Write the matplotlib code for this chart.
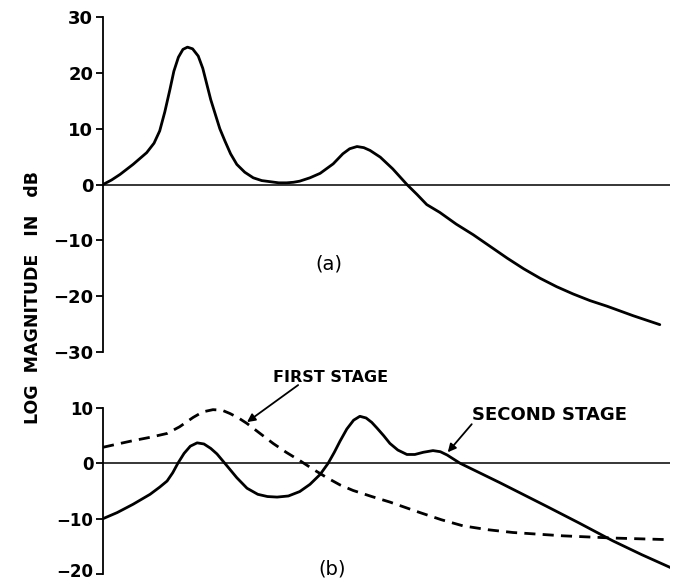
import matplotlib
matplotlib.use("Agg")
import matplotlib.pyplot as plt
from matplotlib.transforms import ScaledTranslation

# ---- data (frequency in arbitrary units 0..100, magnitude in dB) ----
a_x = [0, 1.5, 3.0, 5.3, 7.7, 9.0, 10.0, 10.9, 11.8, 12.5, 13.3, 14.1, 14.9, 15.8,
       16.8, 17.6, 18.3, 19.0, 19.8, 20.6, 21.5, 22.5, 23.6, 25.0, 26.5, 28.0, 29.5,
       31.0, 32.4, 33.6, 34.7, 36.5, 38.3, 40.6, 42.3, 43.5, 44.8, 46.0, 47.1, 48.9,
       51.1, 53.6, 55.4, 57.1, 59.4, 62.3, 65.3, 68.3, 71.3, 74.2, 77.1, 80.0, 82.9,
       85.9, 88.9, 93.5, 98.2]
a_db = [0, 0.8, 1.8, 3.6, 5.7, 7.4, 9.6, 13.0, 17.0, 20.3, 22.8, 24.2, 24.6, 24.3,
        23.0, 20.8, 18.0, 15.2, 12.6, 10.0, 7.8, 5.5, 3.6, 2.2, 1.2, 0.7, 0.5,
        0.3, 0.3, 0.4, 0.6, 1.2, 2.0, 3.7, 5.5, 6.4, 6.8, 6.6, 6.1, 4.9,
        2.8, 0.0, -1.8, -3.6, -5.0, -7.1, -9.0, -11.1, -13.2, -15.1, -16.8, -18.3, -19.6,
        -20.8, -21.8, -23.5, -25.1]

second_x = [0, 2.5, 5.3, 8.3, 10.0, 11.3, 12.3, 13.2, 14.3, 15.4, 16.6, 17.8, 19.0,
            20.1, 21.9, 23.6, 25.4, 27.3, 29.0, 30.7, 32.7, 34.7, 36.5, 38.3, 39.7,
            40.8, 41.8, 43.0, 44.2, 45.3, 46.4, 47.4, 48.3, 49.5, 50.6, 52.0, 53.6,
            55.0, 56.5, 58.2, 59.5, 60.7, 63.0, 70.0, 78.3, 84.0, 89.9, 95.0, 100]
second_db = [-10.0, -8.9, -7.4, -5.6, -4.3, -3.2, -1.7, 0.0, 1.8, 3.1, 3.7, 3.5, 2.7,
             1.7, -0.5, -2.6, -4.5, -5.6, -6.0, -6.1, -5.9, -5.1, -3.8, -2.0, 0.0,
             2.0, 4.0, 6.2, 7.8, 8.5, 8.2, 7.4, 6.4, 5.0, 3.6, 2.4, 1.6,
             1.6, 2.0, 2.3, 2.1, 1.5, 0.0, -3.5, -7.8, -10.8, -14.0, -16.5, -18.8]

first_x = [0, 2.6, 5.3, 8.3, 11.3, 13.5, 15.9, 17.6, 19.4, 21.0, 22.4, 23.9, 25.4,
           27.7, 30.0, 32.3, 34.7, 37.1, 39.5, 41.8, 44.1, 47.4, 50.6, 55.9, 59.7,
           63.5, 67.9, 72.3, 81.1, 89.9, 100]
first_db = [2.9, 3.5, 4.1, 4.7, 5.4, 6.6, 8.3, 9.3, 9.7, 9.6, 9.0, 8.2, 7.2,
            5.4, 3.6, 2.0, 0.5, -1.1, -2.6, -3.9, -4.9, -6.0, -7.0, -8.9, -10.2,
            -11.3, -12.0, -12.5, -13.1, -13.5, -13.8]

top_ticks = [30, 20, 10, 0, -10, -20, -30]
bot_ticks = [10, 0, -10, -20]

plt.rcParams['font.family'] = ['DejaVu Sans']
W, H = 679, 582
fig = plt.figure(figsize=(W / 100, H / 100), dpi=100)

left = 103 / W
width = (670 - 103) / W
ax1 = fig.add_axes([left, 1 - 352 / H, width, (352 - 17) / H])
ax2 = fig.add_axes([left, 1 - 574 / H, width, (574 - 408) / H])

lw = 2.0
for ax in (ax1, ax2):
    ax.set_xlim(0, 100)
    for s in ('top', 'right', 'bottom'):
        ax.spines[s].set_visible(False)
    ax.spines['left'].set_linewidth(1.3)
    ax.set_xticks([])
    ax.tick_params(axis='y', direction='out', length=5, width=1.3, pad=2)
    ax.axhline(0, color='black', lw=1.1, zorder=1)
    ax.patch.set_visible(False)

ax1.set_ylim(-30, 30)
ax1.set_yticks(top_ticks)
ax1.set_yticklabels([f"{t}".replace('-', '\u2212') for t in top_ticks],
                    fontweight='bold', fontsize=13)
ax1.plot(a_x, a_db, color='black', lw=lw, solid_capstyle='round',
         solid_joinstyle='round')
ax1.text(39.9, -14.3, "(a)", fontsize=14, ha='center', va='center')

ax2.set_ylim(-20, 10)
ax2.set_yticks(bot_ticks)
labels2 = ax2.set_yticklabels([f"{t}".replace('-', '\u2212') for t in bot_ticks],
                              fontweight='bold', fontsize=12)
# nudge the lowest label up slightly so it stays inside the figure
labels2[-1].set_transform(labels2[-1].get_transform()
                          + ScaledTranslation(0, 3 / 72, fig.dpi_scale_trans))
ax2.plot(second_x, second_db, color='black', lw=lw, solid_joinstyle='round')
ax2.plot(first_x, first_db, color='black', lw=lw, linestyle=(0, (4, 2.6)))
ax2.text(40.4, -19.1, "(b)", fontsize=14, ha='center', va='center')

ax2.annotate("FIRST STAGE", xy=(25.4, 7.45), xytext=(40.1, 15.5),
             textcoords='data', fontsize=11.5, fontweight='bold',
             ha='center', va='center', annotation_clip=False,
             arrowprops=dict(arrowstyle='-|>', color='black', lw=1.3,
                             mutation_scale=12, shrinkA=0, shrinkB=0,
                             patchA=None, relpos=(0.22, 0)))
ax2.annotate("SECOND STAGE", xy=(60.8, 2.0), xytext=(78.7, 8.7),
             textcoords='data', fontsize=13, fontweight='bold',
             ha='center', va='center', annotation_clip=False,
             arrowprops=dict(arrowstyle='-|>', color='black', lw=1.3,
                             mutation_scale=12, shrinkA=0, shrinkB=0,
                             patchA=None, relpos=(0.0, 0)))

fig.text(33 / W, 1 - 297 / H, "LOG  MAGNITUDE   IN   dB", rotation=90,
         fontsize=12.5, fontweight='bold', ha='center', va='center')

fig.savefig("out.png", dpi=100)
